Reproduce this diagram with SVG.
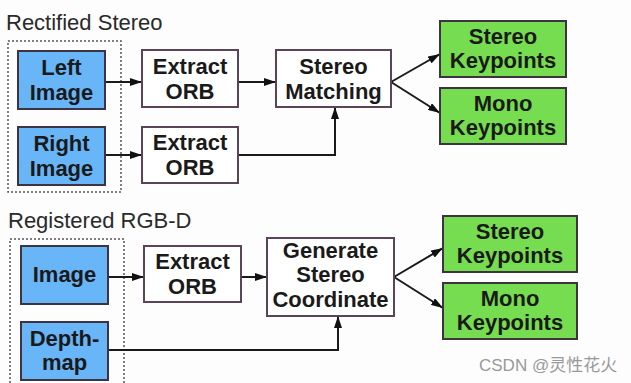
<svg xmlns="http://www.w3.org/2000/svg" width="631" height="383" viewBox="0 0 631 383">
<defs>
<marker id="ah" viewBox="0 0 12 8" refX="12" refY="4" markerWidth="12" markerHeight="8" markerUnits="userSpaceOnUse" orient="auto">
<path d="M0,0 L12,4 L0,8 Z" fill="#111"/>
</marker>
<style>
.t{font-family:"Liberation Sans",Arial,sans-serif;font-size:22px;font-weight:bold;fill:#1a1a1a;text-anchor:middle}
.h{font-family:"Liberation Sans",Arial,sans-serif;font-size:22px;fill:#2a2a2a}
.b{fill:#68b5f8;stroke:#3e3340;stroke-width:2}
.w{fill:#ffffff;stroke:#5a4458;stroke-width:2}
.g{fill:#77dd50;stroke:#3e3340;stroke-width:2}
.d{fill:none;stroke:#555;stroke-width:1.5;stroke-dasharray:2 2}
.c{fill:none;stroke:#1a1a1a;stroke-width:2}
</style>
</defs>
<rect width="631" height="383" fill="#fdfdfd"/>
<text class="h" x="6" y="30">Rectified Stereo</text>
<text class="h" x="8" y="228">Registered RGB-D</text>
<rect class="d" x="8" y="41" width="113" height="151"/>
<rect class="d" x="10" y="239" width="114" height="150"/>
<g id="connectors">
<path class="c" d="M105,82 H142" marker-end="url(#ah)"/>
<path class="c" d="M105,155 H142" marker-end="url(#ah)"/>
<path class="c" d="M238,82 H276" marker-end="url(#ah)"/>
<path class="c" d="M238,155 H335 V107" marker-end="url(#ah)"/>
<path class="c" d="M391,82 L440,54" marker-end="url(#ah)"/>
<path class="c" d="M391,82 L440,113" marker-end="url(#ah)"/>
<path class="c" d="M108,277 H144" marker-end="url(#ah)"/>
<path class="c" d="M241,277 H267" marker-end="url(#ah)"/>
<path class="c" d="M108,350 H338 V316" marker-end="url(#ah)"/>
<path class="c" d="M394,277 L443,248" marker-end="url(#ah)"/>
<path class="c" d="M394,277 L443,308" marker-end="url(#ah)"/>
</g>
<g id="left-image"><rect class="b" x="18" y="51" width="87" height="58"/><text class="t" x="61.5" y="75">Left</text><text class="t" x="61.5" y="100">Image</text></g>
<g id="right-image"><rect class="b" x="18" y="127" width="87" height="58"/><text class="t" x="61.5" y="151">Right</text><text class="t" x="61.5" y="176">Image</text></g>
<g id="extract-orb-1"><rect class="w" x="142" y="50" width="96" height="57"/><text class="t" x="190" y="74">Extract</text><text class="t" x="190" y="99">ORB</text></g>
<g id="extract-orb-2"><rect class="w" x="142" y="127" width="96" height="56"/><text class="t" x="190" y="150">Extract</text><text class="t" x="190" y="175">ORB</text></g>
<g id="stereo-matching"><rect class="w" x="276" y="50" width="115" height="57"/><text class="t" x="333.5" y="74">Stereo</text><text class="t" x="333.5" y="99">Matching</text></g>
<g id="stereo-keypoints-1"><rect class="g" x="440" y="21" width="126" height="56"/><text class="t" x="503" y="44">Stereo</text><text class="t" x="503" y="68">Keypoints</text></g>
<g id="mono-keypoints-1"><rect class="g" x="440" y="88" width="126" height="56"/><text class="t" x="503" y="111">Mono</text><text class="t" x="503" y="135">Keypoints</text></g>
<g id="image"><rect class="b" x="21" y="246" width="87" height="58"/><text class="t" x="64.5" y="282">Image</text></g>
<g id="depth-map"><rect class="b" x="21" y="322" width="87" height="58"/><text class="t" x="64.5" y="346">Depth-</text><text class="t" x="64.5" y="370">map</text></g>
<g id="extract-orb-3"><rect class="w" x="144" y="246" width="97" height="56"/><text class="t" x="192.5" y="269">Extract</text><text class="t" x="192.5" y="294">ORB</text></g>
<g id="generate-stereo-coordinate"><rect class="w" x="267" y="238" width="127" height="78"/><text class="t" x="330.5" y="258">Generate</text><text class="t" x="330.5" y="282">Stereo</text><text class="t" x="330.5" y="307">Coordinate</text></g>
<g id="stereo-keypoints-2"><rect class="g" x="443" y="216" width="134" height="56"/><text class="t" x="510" y="239">Stereo</text><text class="t" x="510" y="263">Keypoints</text></g>
<g id="mono-keypoints-2"><rect class="g" x="443" y="283" width="134" height="56"/><text class="t" x="510" y="306">Mono</text><text class="t" x="510" y="330">Keypoints</text></g>
<text x="479" y="371" style="font-family:'Liberation Sans','Noto Sans CJK SC',sans-serif;font-size:17px;fill:#999">CSDN @灵性花火</text>
</svg>
